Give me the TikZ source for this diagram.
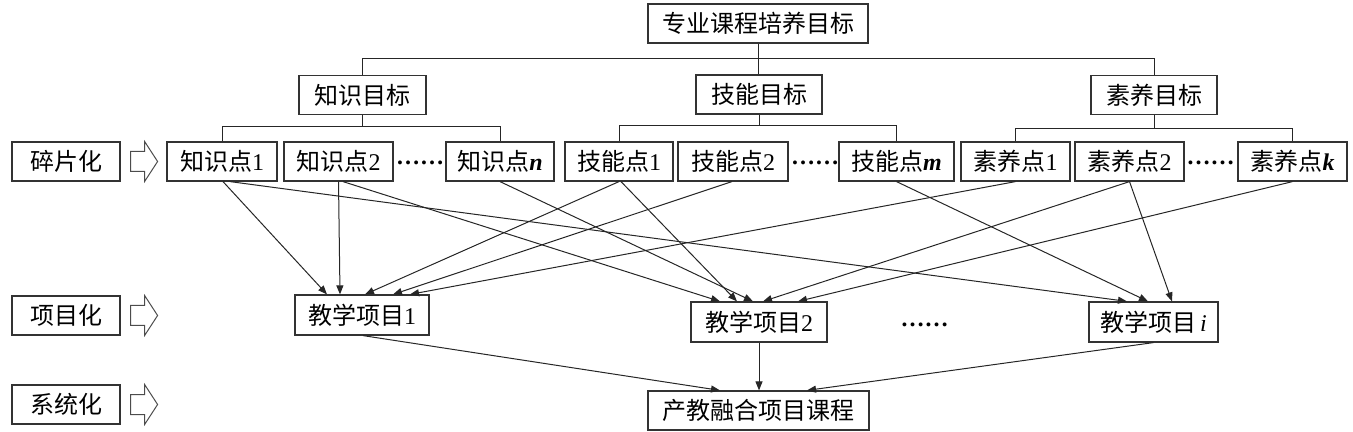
\documentclass[tikz,border=0pt]{standalone}
\usepackage{fontspec}
\setmainfont{Liberation Serif}
\newfontfamily\cjk{Noto Sans CJK SC}
\usetikzlibrary{calc,arrows.meta}
\newcommand{\zh}[1]{{\cjk #1}}
\begin{document}
\begin{tikzpicture}[x=0.5pt,y=-0.5pt,
  box/.style={draw=black!80, line width=0.6pt, inner sep=0pt, minimum height=19.5pt, font=\fontsize{12}{14}\selectfont, text=black},
  link/.style={draw=black!85, line width=0.5pt},
  arr/.style={link, -{Triangle[length=4.5pt,width=3.5pt]}},
  blk/.style={draw=black!70, line width=0.5pt, fill=white},
  dots/.style={font=\fontsize{12}{14}\selectfont\bfseries, inner sep=0pt}]
\useasboundingbox (0,0) rectangle (1353,432);
% top levels
\node[box, minimum width=110pt] (top) at (758,23.5) {\zh{专业课程培养目标}};
\node[box, minimum width=63.5pt] (g1) at (362.5,95) {\zh{知识目标}};
\node[box, minimum width=63pt] (g2) at (759,94.5) {\zh{技能目标}};
\node[box, minimum width=63pt] (g3) at (1154,95) {\zh{素养目标}};
% points
\node[box, minimum width=55pt] (k1) at (222,161.5) {\zh{知识点}1};
\node[box, minimum width=54.5pt] (k2) at (338.5,161.5) {\zh{知识点}2};
\node[box, minimum width=54pt] (kn) at (500,161.5) {\zh{知识点}\textbf{\textit{n}}};
\node[box, minimum width=54pt] (s1) at (619,161.5) {\zh{技能点}1};
\node[box, minimum width=55pt] (s2) at (733,161.5) {\zh{技能点}2};
\node[box, minimum width=57.5pt] (sm) at (896.5,161.5) {\zh{技能点}\textbf{\textit{m}}};
\node[box, minimum width=54.5pt] (q1) at (1015.5,161.5) {\zh{素养点}1};
\node[box, minimum width=54.5pt] (q2) at (1129.5,161.5) {\zh{素养点}2};
\node[box, minimum width=54.5pt] (qk) at (1292.5,161.5) {\zh{素养点}\textbf{\textit{k}}};
\node[dots] (d1) at (420,163) {……};
\node[dots] (d2) at (815,163) {……};
\node[dots] (d3) at (1210.5,163) {……};
% left labels
\node[box, minimum width=54pt] (L1) at (66,161.5) {\zh{碎片化}};
\node[box, minimum width=54pt] (L2) at (66,315.5) {\zh{项目化}};
\node[box, minimum width=54pt] (L3) at (66,404.5) {\zh{系统化}};
\foreach \L in {L1,L2,L3}{
  \draw[blk] ($(\L.east)+(10,-10)$) -- ++(14,0) -- ++(0,-10) -- ++(13,20) -- ++(-13,20) -- ++(0,-10) -- ++(-14,0) -- cycle;
}
% projects
\node[box, minimum width=67pt, minimum height=20pt] (p1) at (362,315) {\zh{教学项目}1};
\node[box, minimum width=68pt, minimum height=20pt] (p2) at (759,322) {\zh{教学项目}2};
\node[box, minimum width=64.5pt, minimum height=20pt] (pi) at (1153.5,322) {\zh{教学项目}\,\textit{i}};
\node[dots] (d4) at (924.5,325) {……};
\node[box, minimum width=110.5pt] (fin) at (758.5,410.5) {\zh{产教融合项目课程}};
% brackets
\draw[link] (top.south) -- (top.south |- g2.north);
\draw[link] (g1.north) -- ++(0,-16) -| (g3.north);
\draw[link] (g1.south) -- ++(0,11);
\draw[link] (k1.north) |- ($(g1.south)+(0,11)$) -| (kn.north);
\draw[link] (g2.south) -- ++(0,11);
\draw[link] (s1.north) |- ($(g2.south)+(0,11)$) -| (sm.north);
\draw[link] (g3.south) -- ++(0,13);
\draw[link] (q1.north) |- ($(g3.south)+(0,13)$) -| (qk.north);
% arrows to projects
\draw[arr] ($(k1.south)+(1,0)$) -- ($(p1.north)+(-35,0)$);
\draw[arr] ($(k1.south)+(8,0)$) -- ($(pi.north)+(-26.5,0)$);
\draw[arr] ($(k2.south)+(0,0)$) -- ($(p1.north)+(-22,0)$);
\draw[arr] ($(k2.south)+(4.5,0)$) -- ($(p2.north)+(-39,0)$);
\draw[arr] (kn.south) -- ($(p2.north)+(-6,0)$);
\draw[arr] (s1.south) -- ($(p1.north)+(3,0)$);
\draw[arr] ($(s1.south)+(2,0)$) -- ($(p2.north)+(-22,0)$);
\draw[arr] ($(s2.south)+(-1,0)$) -- ($(p1.north)+(31,0)$);
\draw[arr] (sm.south) -- ($(pi.north)+(-5.5,0)$);
\draw[arr] (q1.south) -- ($(p1.north)+(48,0)$);
\draw[arr] (q2.south) -- ($(p2.north)+(4,0)$);
\draw[arr] (q2.south) -- ($(pi.north)+(18.5,0)$);
\draw[arr] (qk.south) -- ($(p2.north)+(39,0)$);
% to final
\draw[arr] ($(p1.south)+(1,0)$) -- ($(fin.north)+(-38.5,0)$);
\draw[arr] (p2.south) -- (p2.south |- fin.north);
\draw[arr] (pi.south) -- ($(fin.north)+(48.5,0)$);
\end{tikzpicture}
\end{document}
